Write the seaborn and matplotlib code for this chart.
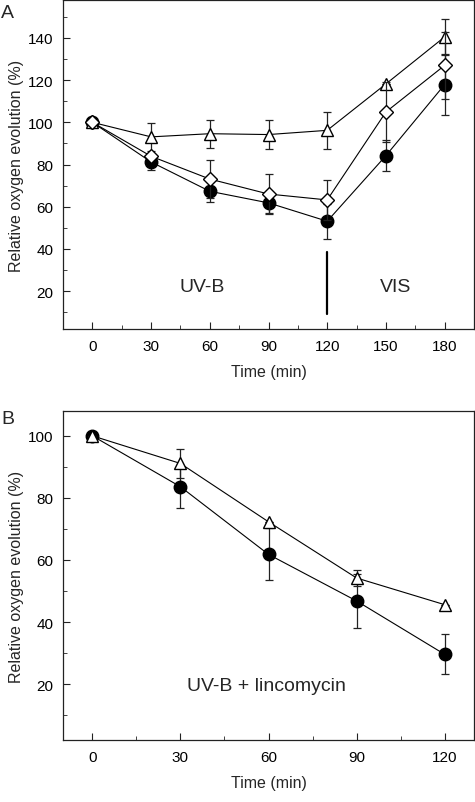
import matplotlib
matplotlib.use("Agg")
import matplotlib.pyplot as plt
from matplotlib.ticker import MultipleLocator
import seaborn as sns
import pandas as pd

# Panel A: UV-B then visible light recovery
time_a = [0, 30, 60, 90, 120, 150, 180]
tri_a = [100, 93.1, 94.6, 94.2, 96.2, 118.2, 140.5]
tri_a_err = [0, 6.5, 6.6, 7.0, 8.7, 0, 8.3]
dia_a = [100, 83.9, 73.1, 66.0, 63.2, 104.9, 127.0]
dia_a_err = [0, 0, 9.0, 9.7, 9.5, 14.0, 16.0]
cir_a = [100, 81.2, 67.3, 61.8, 53.1, 84.2, 117.9]
cir_a_err = [0, 4.0, 5.3, 5.0, 8.4, 7.4, 14.2]

# Panel B: UV-B + lincomycin
time_b = [0, 30, 60, 90, 120]
tri_b = [100, 91.1, 72.3, 54.2, 45.6]
tri_b_err = [0, 4.8, 0, 2.6, 0]
cir_b = [100, 83.6, 61.8, 46.8, 29.6]
cir_b_err = [0, 7.0, 8.4, 8.7, 6.4]

sns.set_style("ticks")
plt.rcParams['font.family'] = ['Liberation Sans', 'DejaVu Sans']

fig = plt.figure(figsize=(4.75, 8.03), dpi=100)
ax_a = fig.add_axes([63 / 475, 1 - 330 / 803, 411 / 475, 329 / 803])
ax_b = fig.add_axes([63 / 475, 1 - 741 / 803, 411 / 475, 329 / 803])

styles = {
    'tri': dict(marker='^', markersize=9, markerfacecolor='white'),
    'dia': dict(marker='D', markersize=7.5, markerfacecolor='white'),
    'cir': dict(marker='o', markersize=9, markerfacecolor='black'),
}


def draw_series(ax, x, y, err, kind, z):
    df = pd.DataFrame({'x': x, 'y': y})
    ax.errorbar(x, y, yerr=err, fmt='none', ecolor='#222222',
                elinewidth=0.9, capsize=2.6, capthick=0.9, zorder=z)
    sns.lineplot(data=df, x='x', y='y', ax=ax, color='black', linewidth=0.8,
                 markeredgecolor='black', markeredgewidth=1.0,
                 zorder=z + 0.5, **styles[kind])


def style_axes(ax):
    for s in ax.spines.values():
        s.set_visible(True)
        s.set_color('#222222')
        s.set_linewidth(0.9)
    ax.tick_params(which='both', direction='in', colors='#222222',
                   labelcolor='black', labelsize=11, pad=7)
    ax.tick_params(which='major', length=5)
    ax.tick_params(which='minor', length=3)
    ax.set_xlabel('Time (min)', fontsize=11.5, labelpad=8)
    ax.set_ylabel('Relative oxygen evolution (%)', fontsize=11.5, labelpad=3)


draw_series(ax_a, time_a, cir_a, cir_a_err, 'cir', 3)
draw_series(ax_a, time_a, tri_a, tri_a_err, 'tri', 4)
draw_series(ax_a, time_a, dia_a, dia_a_err, 'dia', 5)
ax_a.plot([120, 120], [9.1, 38.3], color='black', linewidth=1.6)
ax_a.text(56, 22, 'UV-B', fontsize=14, ha='center', va='center')
ax_a.text(155, 22, 'VIS', fontsize=14, ha='center', va='center')
ax_a.set_xlim(-15, 195)
ax_a.set_ylim(2, 158)
ax_a.set_xticks(time_a)
ax_a.xaxis.set_minor_locator(MultipleLocator(15))
ax_a.set_yticks([20, 40, 60, 80, 100, 120, 140])
ax_a.yaxis.set_minor_locator(MultipleLocator(10))
style_axes(ax_a)

draw_series(ax_b, time_b, cir_b, cir_b_err, 'cir', 3)
draw_series(ax_b, time_b, tri_b, tri_b_err, 'tri', 5)
ax_b.text(59.4, 19.5, 'UV-B + lincomycin', fontsize=14, ha='center', va='center')
ax_b.set_xlim(-10, 130)
ax_b.set_ylim(2, 108)
ax_b.set_xticks(time_b)
ax_b.xaxis.set_minor_locator(MultipleLocator(15))
ax_b.set_yticks([20, 40, 60, 80, 100])
ax_b.yaxis.set_minor_locator(MultipleLocator(10))
style_axes(ax_b)

fig.text(1 / 475, 1 - 14 / 803, 'A', fontsize=14, ha='left', va='center')
fig.text(1 / 475, 1 - 420 / 803, 'B', fontsize=14, ha='left', va='center')

fig.savefig('out.png', dpi=100)
